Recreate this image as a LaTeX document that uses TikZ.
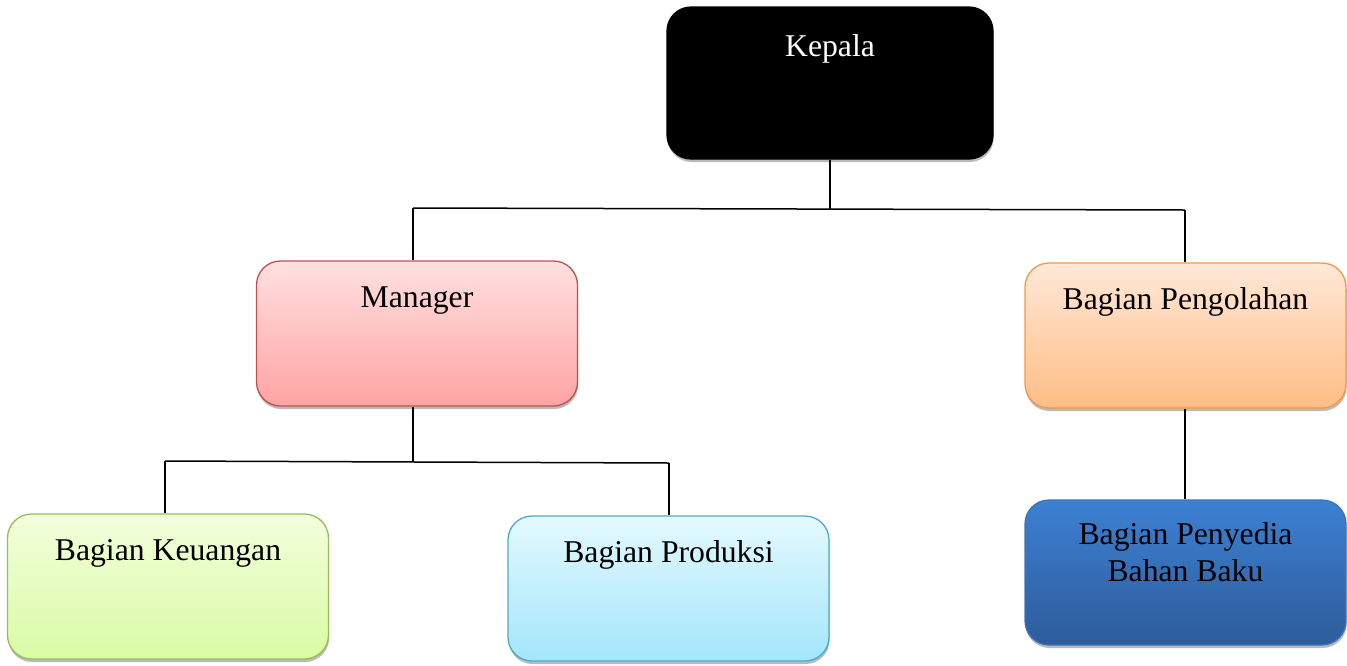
\documentclass[tikz,border=0pt]{standalone}
\usepackage{fontspec}
\setmainfont{Liberation Serif}
\usetikzlibrary{shadows,calc}
\definecolor{mtop}{HTML}{FFE0E0}
\definecolor{mbot}{HTML}{FFA3A3}
\definecolor{mbord}{HTML}{C0504D}
\definecolor{ptop}{HTML}{FFE8D8}
\definecolor{pbot}{HTML}{FFBD85}
\definecolor{pbord}{HTML}{F79646}
\definecolor{ktop}{HTML}{F2FEDC}
\definecolor{kbot}{HTML}{DAFBA4}
\definecolor{kgbord}{HTML}{9BBB59}
\definecolor{rtop}{HTML}{E4F9FE}
\definecolor{rbot}{HTML}{A4E6FB}
\definecolor{rbord}{HTML}{4BACC6}
\definecolor{btop}{HTML}{3D80D2}
\definecolor{bbot}{HTML}{2D5C9C}
\definecolor{bbord}{HTML}{3A74BC}
\tikzset{
  orgbox/.style={draw, line width=1.3pt, rounded corners=24pt, inner sep=0pt,
    minimum width=321pt, minimum height=145pt,
    drop shadow={shadow xshift=0.6pt, shadow yshift=-3pt, fill=black!45, opacity=0.6}},
  boxtext/.style={anchor=base, font=\fontsize{31.7}{37}\selectfont, align=center, inner sep=0pt},
  conn/.style={line width=1.5pt, black}
}
\begin{document}
\begin{tikzpicture}[x=1pt,y=-1pt]
\useasboundingbox (0,0) rectangle (1347,665);
% boxes
\node[orgbox, minimum width=326pt, minimum height=152pt, fill=black, draw=black] (kepala) at (830,83) {};
\node[boxtext, text=white] (tkepala) at ($(kepala.north)+(0,50)$) {Kepala};

\node[orgbox, draw=mbord, top color=mtop, bottom color=mbot] (manager) at (417,333.5) {};
\node[boxtext] (tmanager) at ($(manager.north)+(0,47)$) {Manager};

\node[orgbox, draw=pbord, top color=ptop, bottom color=pbot] (pengolahan) at (1185.5,335.5) {};
\node[boxtext] (tpengolahan) at ($(pengolahan.north)+(0,47)$) {Bagian Pengolahan};

\node[orgbox, draw=kgbord, top color=ktop, bottom color=kbot] (keuangan) at (168,586.5) {};
\node[boxtext] (tkeuangan) at ($(keuangan.north)+(0,47)$) {Bagian Keuangan};

\node[orgbox, draw=rbord, top color=rtop, bottom color=rbot] (produksi) at (668.5,588.5) {};
\node[boxtext] (tproduksi) at ($(produksi.north)+(0,47)$) {Bagian Produksi};

\node[orgbox, draw=bbord, top color=btop, bottom color=bbot] (penyedia) at (1185.5,572.5) {};
\node[boxtext] (tpenyedia) at ($(penyedia.north)+(0,82)$) {Bagian Penyedia\\Bahan Baku};

% connectors
\coordinate (j1) at (830,208.5);
\coordinate (j1l) at (413,208);
\coordinate (j1r) at (1185,210);
\coordinate (j2) at (413,461.5);
\coordinate (j2l) at (165,461);
\coordinate (j2r) at (669,463);
\draw[conn] (kepala.south) -- (j1);
\draw[conn] (j1l) -- (j1r);
\draw[conn] (j1l) -- (j1l |- manager.north);
\draw[conn] (j1r) -- (j1r |- pengolahan.north);
\draw[conn] (manager.south -| j2) -- (j2);
\draw[conn] (j2l) -- (j2r);
\draw[conn] (j2l) -- (j2l |- keuangan.north);
\draw[conn] (j2r) -- (j2r |- produksi.north);
\draw[conn] (pengolahan.south -| j1r) -- (j1r |- penyedia.north);
\end{tikzpicture}
\end{document}
